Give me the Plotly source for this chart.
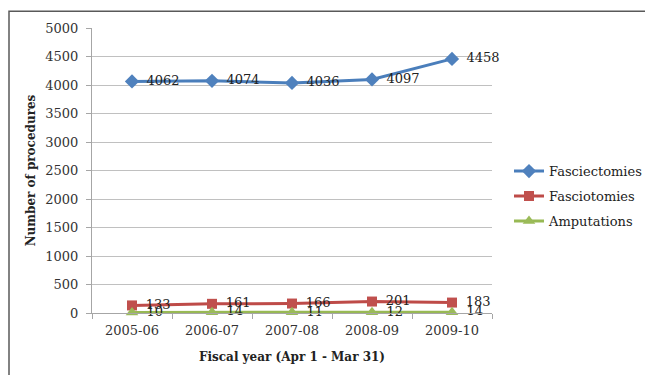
import plotly.graph_objects as go

# Fiscal years and procedure counts
years = ["2005-06", "2006-07", "2007-08", "2008-09", "2009-10"]
fasciectomies = [4062, 4074, 4036, 4097, 4458]
fasciotomies = [133, 161, 166, 201, 183]
amputations = [10, 14, 11, 12, 14]
y_ticks = [0, 500, 1000, 1500, 2000, 2500, 3000, 3500, 4000, 4500, 5000]

FONT = "DejaVu Serif"
PAD = "\u2002"  # gap between a marker and its value label

series = [
    ("Fasciectomies", fasciectomies, "#4A7EBB", "#4F81BD", "diamond", 11),
    ("Fasciotomies", fasciotomies, "#BE4B48", "#C0504D", "square", 10),
    ("Amputations", amputations, "#98B954", "#9BBB59", "triangle-up", 11),
]

fig = go.Figure()
for name, vals, lc, mc, sym, ms in series:
    fig.add_trace(go.Scatter(
        x=years, y=vals, name=name, legendgroup=name,
        mode="lines+markers+text",
        text=[PAD + str(v) for v in vals], textposition="middle right",
        textfont=dict(family=FONT, size=13, color="#222"),
        line=dict(color=lc, width=3),
        marker=dict(symbol=sym, size=ms, color=mc, line=dict(width=0)),
        cliponaxis=False,
    ))

# Outer chart-area border
fig.add_shape(type="rect", xref="paper", yref="paper",
              x0=-0.2075, x1=1.6, y0=-0.3, y1=1.0585,
              line=dict(color="#595959", width=1.5), fillcolor="rgba(0,0,0,0)",
              layer="below")

fig.update_layout(
    width=645, height=375,
    margin=dict(l=92, r=153, t=28, b=62, autoexpand=False),
    paper_bgcolor="white", plot_bgcolor="white",
    font=dict(family=FONT, size=13, color="#333"),
    showlegend=True,
    legend=dict(x=1.0425, y=0.41, xanchor="left", yanchor="middle",
                font=dict(family=FONT, size=13, color="#222"),
                tracegroupgap=5, itemwidth=30,
                bgcolor="rgba(0,0,0,0)"),
    xaxis=dict(
        type="category", showgrid=False, tickson="boundaries",
        ticks="outside", ticklen=5, tickcolor="#a6a6a6",
        showline=True, linecolor="#a6a6a6", linewidth=1,
        tickfont=dict(family=FONT, size=13, color="#333"),
        ticklabelstandoff=5,
        title=dict(text="<b>Fiscal year (Apr 1 - Mar 31)</b>",
                   font=dict(family=FONT, size=12, color="#222"), standoff=16),
        range=[-0.5, 4.5], zeroline=False,
    ),
    yaxis=dict(
        range=[0, 5000], tickvals=y_ticks, showgrid=True,
        gridcolor="#c0c0c0", gridwidth=1,
        ticks="outside", ticklen=5, tickcolor="#a6a6a6",
        showline=True, linecolor="#a6a6a6", linewidth=1, zeroline=False,
        tickfont=dict(family=FONT, size=13, color="#333"),
        ticklabelstandoff=5,
        title=dict(text="<b>Number of procedures</b>",
                   font=dict(family=FONT, size=12, color="#222"), standoff=7),
    ),
)

fig.write_html("out.html")
